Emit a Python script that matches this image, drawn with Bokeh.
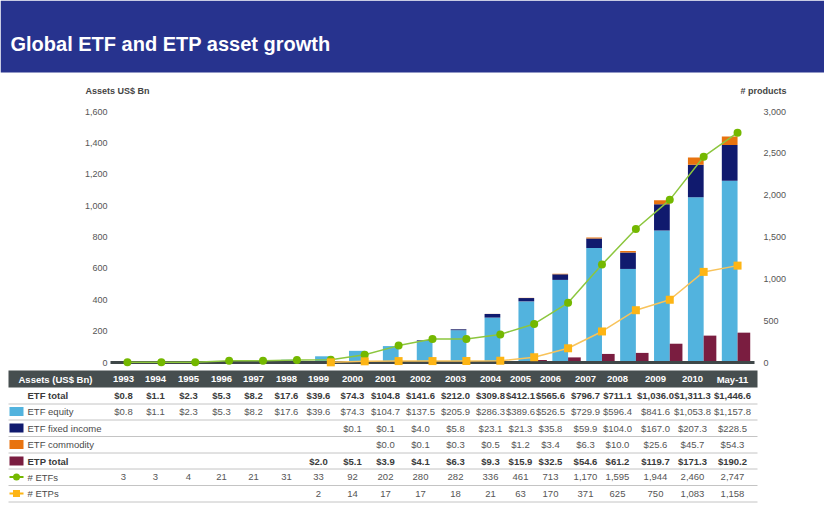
from bokeh.plotting import figure
from bokeh.models import Range1d, ColumnDataSource
from bokeh.transform import dodge
from bokeh.embed import file_html
from bokeh.resources import INLINE
from bokeh.core.properties import value

# ---------------- data ----------------
years = ["1993", "1994", "1995", "1996", "1997", "1998", "1999", "2000", "2001",
         "2002", "2003", "2004", "2005", "2006", "2007", "2008", "2009", "2010", "May-11"]
etf_total = [0.8, 1.1, 2.3, 5.3, 8.2, 17.6, 39.6, 74.3, 104.8, 141.6, 212.0, 309.8,
             412.1, 565.6, 796.7, 711.1, 1036.0, 1311.3, 1446.6]
etf_equity = [0.8, 1.1, 2.3, 5.3, 8.2, 17.6, 39.6, 74.3, 104.7, 137.5, 205.9, 286.3,
              389.6, 526.5, 729.9, 596.4, 841.6, 1053.8, 1157.8]
etf_fixed_income = [None] * 7 + [0.1, 0.1, 4.0, 5.8, 23.1, 21.3, 35.8, 59.9, 104.0,
                                 167.0, 207.3, 228.5]
etf_commodity = [None] * 8 + [0.0, 0.1, 0.3, 0.5, 1.2, 3.4, 6.3, 10.0, 25.6, 45.7, 54.3]
etp_total = [None] * 6 + [2.0, 5.1, 3.9, 4.1, 6.3, 9.3, 15.9, 32.5, 54.6, 61.2,
                          119.7, 171.3, 190.2]
n_etfs = [3, 3, 4, 21, 21, 31, 33, 92, 202, 280, 282, 336, 461, 713, 1170, 1595,
          1944, 2460, 2747]
n_etps = [None] * 6 + [2, 14, 17, 17, 18, 21, 63, 170, 371, 625, 750, 1083, 1158]

left_ticks = [0, 200, 400, 600, 800, 1000, 1200, 1400, 1600]
right_ticks = [0, 500, 1000, 1500, 2000, 2500, 3000]

# ---------------- layout / styles ----------------
W, H = 824, 507
CH_LEFT, CH_RIGHT = 110, 754        # chart area, pixels
Y_ZERO, Y_TOP = 362, 111            # pixel rows of 0 and of the top tick
FONT = "Liberation Sans"
C_BANNER = "#27338e"
C_EQ = "#52b3de"
C_FI = "#101a6e"
C_CO = "#e8730f"
C_ETP = "#7a1d40"
C_ETF_LINE = "#8cc63e"
C_ETF_MK = "#74b800"
C_ETP_LINE = "#f8c35a"
C_ETP_MK = "#fdb515"


def z(v):
    return 0.0 if v is None else v


def nan(v):
    return float("nan") if v is None else v


n = len(years)
cat_w = (CH_RIGHT - CH_LEFT) / n
k_assets = left_ticks[-1] / (Y_ZERO - Y_TOP)
k_count = right_ticks[-1] / (Y_ZERO - Y_TOP)

p = figure(width=W, height=H, x_range=Range1d(0, W), y_range=Range1d(H, 0),
           x_axis_location=None, y_axis_location=None, toolbar_location=None,
           output_backend="svg", min_border=0, outline_line_color=None)
p.grid.visible = False
p.extra_x_ranges = {"idx": Range1d(-CH_LEFT / cat_w - 0.5, (W - CH_LEFT) / cat_w - 0.5)}
p.extra_y_ranges = {
    "assets": Range1d((Y_ZERO - H) * k_assets, Y_ZERO * k_assets),
    "count": Range1d((Y_ZERO - H) * k_count, Y_ZERO * k_count),
}

# ---------------- banner ----------------
p.quad(left=[0], right=[W], top=[0], bottom=[72], fill_color=C_BANNER, line_color=None)
p.text(x=[10], y=[43.5], text=["Global ETF and ETP asset growth"],
       text_font=value(FONT), text_font_style="bold", text_font_size="20px",
       text_color="white", text_baseline="alphabetic", text_align="left")

# ---------------- chart ----------------
src = ColumnDataSource(dict(
    i=list(range(n)),
    year=years,
    eq=[z(v) for v in etf_equity],
    fi=[z(v) for v in etf_fixed_income],
    co=[z(v) for v in etf_commodity],
    etp=[z(v) for v in etp_total],
    n_etfs=[nan(v) for v in n_etfs],
    n_etps=[nan(v) for v in n_etps],
))

p.vbar_stack(["eq", "fi", "co"], x=dodge("i", -0.232), width=0.464, source=src,
             color=[C_EQ, C_FI, C_CO], line_color=None,
             x_range_name="idx", y_range_name="assets")
p.vbar(x=dodge("i", 0.187), top="etp", bottom=0, width=0.374, source=src,
       fill_color=C_ETP, line_color=None, x_range_name="idx", y_range_name="assets")
# x axis base line
p.segment(x0=[-0.5], x1=[n - 0.5], y0=[0], y1=[0], line_color="#3f4748",
          line_width=3, x_range_name="idx", y_range_name="assets")

p.line(x="i", y="n_etfs", source=src, line_color=C_ETF_LINE, line_width=1.5,
       x_range_name="idx", y_range_name="count")
p.scatter(x="i", y="n_etfs", source=src, marker="circle", size=8,
          fill_color=C_ETF_MK, line_color=None, x_range_name="idx", y_range_name="count")
p.line(x="i", y="n_etps", source=src, line_color=C_ETP_LINE, line_width=1.5,
       x_range_name="idx", y_range_name="count")
p.scatter(x="i", y="n_etps", source=src, marker="square", size=8,
          fill_color=C_ETP_MK, line_color=None, x_range_name="idx", y_range_name="count")

# axis tick labels (placed through the value scales)
p.text(x=[CH_LEFT - 3] * len(left_ticks), y=left_ticks,
       text=["{:,}".format(t) for t in left_ticks], y_range_name="assets",
       text_font=value(FONT), text_font_size="9px", text_color="#555555",
       text_baseline="middle", text_align="right")
p.text(x=[CH_RIGHT + 9] * len(right_ticks), y=right_ticks,
       text=["{:,}".format(t) for t in right_ticks], y_range_name="count",
       text_font=value(FONT), text_font_size="9px", text_color="#555555",
       text_baseline="middle", text_align="left")
p.text(x=[85], y=[90], text=["Assets US$ Bn"], text_font=value(FONT),
       text_font_style="bold", text_font_size="9px", text_color="#444444",
       text_baseline="middle", text_align="left")
p.text(x=[786], y=[90], text=["# products"], text_font=value(FONT),
       text_font_style="bold", text_font_size="9px", text_color="#444444",
       text_baseline="middle", text_align="right")

# ---------------- table ----------------
col_x = [123, 155, 188, 221, 253, 286, 318, 352, 385, 420, 455, 490, 520, 550,
         585, 617, 655, 692, 732]
row_y = [394.5, 411, 427.5, 444, 460.5, 476.5, 493]
sep_y = [403.5, 419.5, 436, 452.5, 468.5, 485, 501.5]
T_LEFT, T_RIGHT = 8, 757

p.quad(left=[T_LEFT], right=[T_RIGHT], top=[370], bottom=[387], fill_color="#464e4f",
       line_color=None)
p.text(x=[18], y=[378.5], text=["Assets (US$ Bn)"], text_font=value(FONT),
       text_font_style="bold", text_font_size="9.5px", text_color="white",
       text_baseline="middle", text_align="left")
p.text(x=col_x, y=[378.5] * n, text=years, text_font=value(FONT),
       text_font_style="bold", text_font_size="9.5px", text_color="white",
       text_baseline="middle", text_align="center")

p.segment(x0=[T_LEFT] * len(sep_y), x1=[T_RIGHT] * len(sep_y), y0=sep_y, y1=sep_y,
          line_color="#c4c4c4", line_width=1)


def money(v):
    return "" if v is None else "${:,.1f}".format(v)


def count(v):
    return "" if v is None else "{:,}".format(v)


rows = [
    ("ETF total", [money(v) for v in etf_total], True),
    ("ETF equity", [money(v) for v in etf_equity], False),
    ("ETF fixed income", [money(v) for v in etf_fixed_income], False),
    ("ETF commodity", [money(v) for v in etf_commodity], False),
    ("ETP total", [money(v) for v in etp_total], True),
    ("# ETFs", [count(v) for v in n_etfs], False),
    ("# ETPs", [count(v) for v in n_etps], False),
]
for (name, vals, bold), yy in zip(rows, row_y):
    style = "bold" if bold else "normal"
    col = "#3a3a3a" if bold else "#555555"
    p.text(x=[27], y=[yy], text=[name], text_font=value(FONT), text_font_style=style,
           text_font_size="9.5px", text_color="#3a3a3a" if bold else "#4a4a4a",
           text_baseline="middle", text_align="left")
    p.text(x=col_x, y=[yy] * n, text=vals, text_font=value(FONT),
           text_font_style=style, text_font_size="9.5px", text_color=col,
           text_baseline="middle", text_align="center")

# legend swatches
p.rect(x=[16] * 4, y=row_y[1:5], width=14, height=9,
       fill_color=[C_EQ, C_FI, C_CO, C_ETP], line_color=None)
p.segment(x0=[9, 9], x1=[23, 23], y0=row_y[5:7], y1=row_y[5:7],
          line_color=[C_ETF_MK, C_ETP_MK], line_width=2)
p.scatter(x=[16], y=[row_y[5]], marker="circle", size=7, fill_color=C_ETF_MK,
          line_color=None)
p.scatter(x=[16], y=[row_y[6]], marker="square", size=7, fill_color=C_ETP_MK,
          line_color=None)

open("out.html", "w").write(file_html(p, INLINE))
